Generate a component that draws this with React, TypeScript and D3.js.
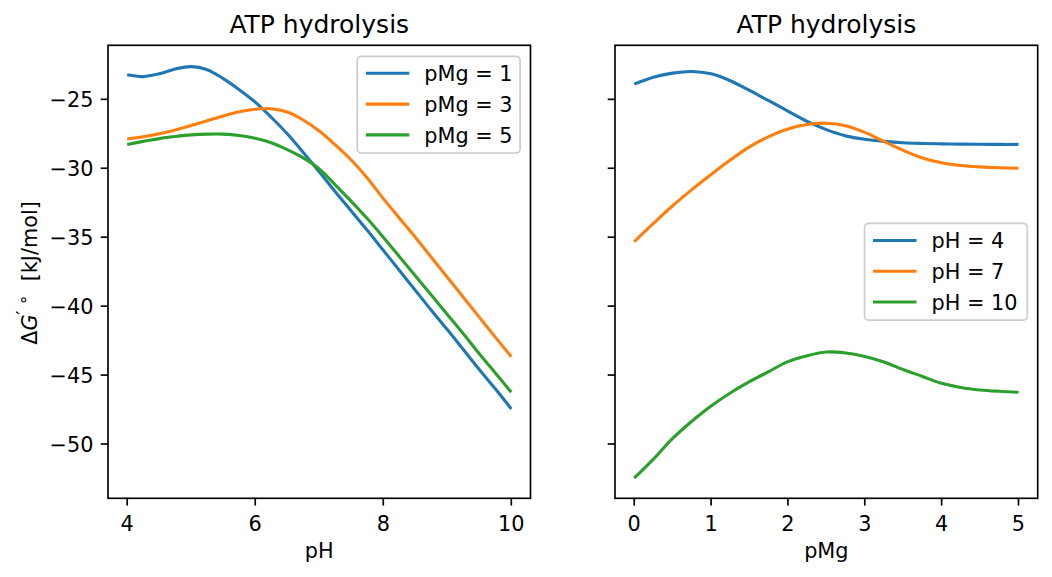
import React from "react";
import * as d3 from "d3";

const PH = [4, 4.25, 4.5, 4.75, 5, 5.25, 5.5, 5.75, 6, 6.25, 6.5, 6.75, 7, 7.25, 7.5, 7.75, 8, 8.25, 8.5, 8.75, 9, 9.25, 9.5, 9.75, 10];
const DG_PMG1 = [-23.22, -23.35, -23.15, -22.8, -22.63, -22.85, -23.5, -24.3, -25.2, -26.3, -27.5, -28.85, -30.25, -31.7, -33.1, -34.5, -35.95, -37.4, -38.85, -40.3, -41.7, -43.15, -44.6, -46.0, -47.46];
const DG_PMG3 = [-27.88, -27.72, -27.5, -27.22, -26.9, -26.55, -26.2, -25.9, -25.72, -25.68, -25.92, -26.5, -27.3, -28.3, -29.4, -30.7, -32.2, -33.6, -35.0, -36.45, -37.9, -39.35, -40.8, -42.25, -43.67];
const DG_PMG5 = [-28.27, -28.05, -27.85, -27.7, -27.58, -27.52, -27.52, -27.62, -27.82, -28.15, -28.65, -29.25, -30.05, -31.2, -32.4, -33.65, -35.0, -36.4, -37.8, -39.2, -40.6, -42.0, -43.45, -44.85, -46.25];

const PMG = [0, 0.25, 0.5, 0.75, 1, 1.25, 1.5, 1.75, 2, 2.25, 2.5, 2.75, 3, 3.25, 3.5, 3.75, 4, 4.25, 4.5, 4.75, 5];
const DG_PH4 = [-23.9, -23.4, -23.1, -22.98, -23.15, -23.65, -24.35, -25.1, -25.85, -26.6, -27.2, -27.65, -27.9, -28.05, -28.15, -28.2, -28.23, -28.25, -28.26, -28.27, -28.27];
const DG_PH7 = [-35.33, -34.0, -32.72, -31.55, -30.45, -29.4, -28.45, -27.7, -27.15, -26.83, -26.73, -26.92, -27.4, -28.05, -28.7, -29.25, -29.6, -29.8, -29.9, -29.96, -30.0];
const DG_PH10 = [-52.48, -51.1, -49.6, -48.35, -47.25, -46.3, -45.48, -44.75, -44.03, -43.6, -43.33, -43.4, -43.65, -44.05, -44.6, -45.1, -45.6, -45.9, -46.08, -46.18, -46.25];

const LEFT_LABELS = ["pMg = 1", "pMg = 3", "pMg = 5"];
const RIGHT_LABELS = ["pH = 4", "pH = 7", "pH = 10"];
const PH_TICKS = [4, 6, 8, 10];
const PMG_TICKS = [0, 1, 2, 3, 4, 5];
const DG_TICKS = [-25, -30, -35, -40, -45, -50];
const COLORS = ["#1f77b4", "#ff7f0e", "#2ca02c"];
const TITLE = "ATP hydrolysis";

const W = 1052, H = 577;
const TOP = 45.3, BOTTOM = 498.3;
const FONT = "DejaVu Sans, Liberation Sans, sans-serif";
const FS = 20.8;
const LW = 3.1;
const TICK = 7.3;

const fmt = (v: number) => (v < 0 ? "\u2212" + Math.abs(v) : String(v));

const y = d3.scaleLinear().domain([-53.94, -21.08]).range([BOTTOM, TOP]);

function Panel({ x0, x1, domain, xs, series, labels, xticks, xlabel, showY, legendPos }: any) {
  const x = d3.scaleLinear().domain(domain).range([x0, x1]);
  const line = d3.line<[number, number]>().x((d) => x(d[0])).y((d) => y(d[1])).curve(d3.curveCatmullRom.alpha(0.5));
  const legW = 162.8, legH = 96.7;
  const legRight = x1 - 10.4;
  const legTop = legendPos === "upper right" ? TOP + 11 : (TOP + BOTTOM) / 2 - legH / 2;
  const legLeft = legRight - legW;
  return (
    <g>
      <text x={(x0 + x1) / 2} y={33} fontSize={25} textAnchor="middle" fontFamily={FONT}>{TITLE}</text>
      <g>
        {series.map((s: number[], i: number) => (
          <path key={i} d={line(xs.map((v: number, j: number) => [v, s[j]]))!} fill="none" stroke={COLORS[i]} strokeWidth={LW} strokeLinejoin="round" strokeLinecap="butt" />
        ))}
      </g>
      <rect x={x0} y={TOP} width={x1 - x0} height={BOTTOM - TOP} fill="none" stroke="#000" strokeWidth={1.67} />
      {xticks.map((t: number) => (
        <g key={t}>
          <line x1={x(t)} x2={x(t)} y1={BOTTOM} y2={BOTTOM + TICK} stroke="#000" strokeWidth={1.67} />
          <text x={x(t)} y={531} fontSize={FS} textAnchor="middle" fontFamily={FONT}>{fmt(t)}</text>
        </g>
      ))}
      {DG_TICKS.map((t) => (
        <g key={t}>
          <line x1={x0 - TICK} x2={x0} y1={y(t)} y2={y(t)} stroke="#000" strokeWidth={1.67} />
          {showY && (
            <text x={x0 - 14.6} y={y(t) + 7.6} fontSize={FS} textAnchor="end" fontFamily={FONT}>{fmt(t)}</text>
          )}
        </g>
      ))}
      <text x={(x0 + x1) / 2} y={558} fontSize={FS} textAnchor="middle" fontFamily={FONT}>{xlabel}</text>
      <g>
        <rect x={legLeft} y={legTop} width={legW} height={legH} rx={4} ry={4} fill="#fff" fillOpacity={0.8} stroke="#cccccc" strokeWidth={1.67} />
        {labels.map((lab: string, i: number) => {
          const ly = legTop + 17 + i * 30.8;
          return (
            <g key={lab}>
              <line x1={legLeft + 8.5} x2={legLeft + 52} y1={ly} y2={ly} stroke={COLORS[i]} strokeWidth={LW} />
              <text x={legLeft + 67} y={ly + 7.8} fontSize={FS} fontFamily={FONT}>{lab}</text>
            </g>
          );
        })}
      </g>
    </g>
  );
}

export default function App() {
  return (
    <svg width={W} height={H} style={{ position: "absolute", left: 0, top: 0, background: "#fff" }}>
      <rect width={W} height={H} fill="#fff" />
      <Panel x0={108} x1={530.5} domain={[3.7, 10.3]} xs={PH} series={[DG_PMG1, DG_PMG3, DG_PMG5]} labels={LEFT_LABELS} xticks={PH_TICKS} xlabel="pH" showY={true} legendPos="upper right" />
      <Panel x0={615} x1={1037.7} domain={[-0.25, 5.25]} xs={PMG} series={[DG_PH4, DG_PH7, DG_PH10]} labels={RIGHT_LABELS} xticks={PMG_TICKS} xlabel="pMg" showY={false} legendPos="center right" />
      <text transform={`translate(36.5, 273) rotate(-90)`} fontSize={FS} textAnchor="middle" fontFamily={FONT}>
        <tspan>Δ</tspan>
        <tspan fontStyle="italic">G</tspan>
        <tspan fontSize={17} dy={-8}>{"\u2032\u00a0\u2218"}</tspan>
        <tspan dy={8}>{"\u00a0\u00a0[kJ/mol]"}</tspan>
      </text>
    </svg>
  );
}
